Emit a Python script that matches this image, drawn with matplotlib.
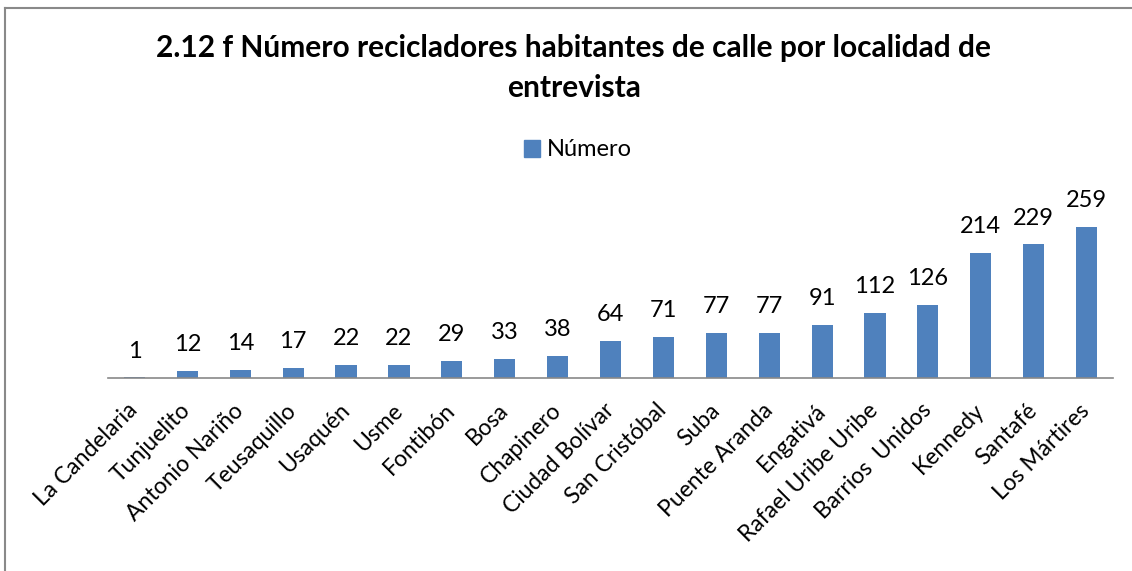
import matplotlib.pyplot as plt
from matplotlib.lines import Line2D
from matplotlib.patches import Patch
import numpy as np

localidades = ['La Candelaria', 'Tunjuelito', 'Antonio Nariño', 'Teusaquillo', 'Usaquén',
               'Usme', 'Fontibón', 'Bosa', 'Chapinero', 'Ciudad Bolívar', 'San Cristóbal',
               'Suba', 'Puente Aranda', 'Engativá', 'Rafael Uribe Uribe', 'Barrios  Unidos',
               'Kennedy', 'Santafé', 'Los Mártires']
numero = [1, 12, 14, 17, 22, 22, 29, 33, 38, 64, 71, 77, 77, 91, 112, 126, 214, 229, 259]

titulo = ['2.12 f Número recicladores habitantes de calle por localidad de', 'entrevista']
serie = 'Número'

plt.rcParams['font.family'] = ['Lato', 'DejaVu Sans']
W, H = 1132, 571
fig = plt.figure(figsize=(W / 100, H / 100), dpi=100)
ax = fig.add_axes([108 / W, (H - 378) / H, (1113 - 108) / W, 175 / H])

color = '#4F81BD'
x = np.arange(len(localidades))
ax.bar(x, numero, width=0.4, color=color, zorder=2)
ax.set_xlim(-0.5, len(localidades) - 0.5)
ax.set_ylim(0, 300)

# value labels above each bar
for xi, v in zip(x, numero):
    ax.annotate(str(v), (xi, v), xytext=(0, 19), textcoords='offset points',
                ha='center', va='center', fontsize=17, annotation_clip=False)

for s in ['top', 'right', 'left']:
    ax.spines[s].set_visible(False)
ax.spines['bottom'].set_color('#898989')
ax.spines['bottom'].set_linewidth(1.2)
ax.set_yticks([])
ax.set_xticks(x)
ax.set_xticklabels(localidades, rotation=45, ha='right', va='center', rotation_mode='anchor', fontsize=16.5)
ax.tick_params(axis='x', length=0, pad=21)

# title, one text per line
for i, linea in enumerate(titulo):
    fig.text(574 / W, 1 - (48 + 40 * i) / H, linea, ha='center', va='center', fontsize=21.5,
             fontweight='bold')

fig.legend(handles=[Patch(color=color, label=serie)], loc='center', bbox_to_anchor=(578 / W, 1 - 150 / H),
           frameon=False, fontsize=17, handlelength=0.7, handleheight=0.7, handletextpad=0.3)

# gray frame (top and left edges visible)
fig.add_artist(Line2D([4.5 / W, 4.5 / W], [0, 1 - 7.5 / H], transform=fig.transFigure, color='#898989', lw=1.5))
fig.add_artist(Line2D([4.5 / W, 1], [1 - 7.5 / H, 1 - 7.5 / H], transform=fig.transFigure, color='#898989', lw=1.5))

fig.savefig('out.png', dpi=100)
